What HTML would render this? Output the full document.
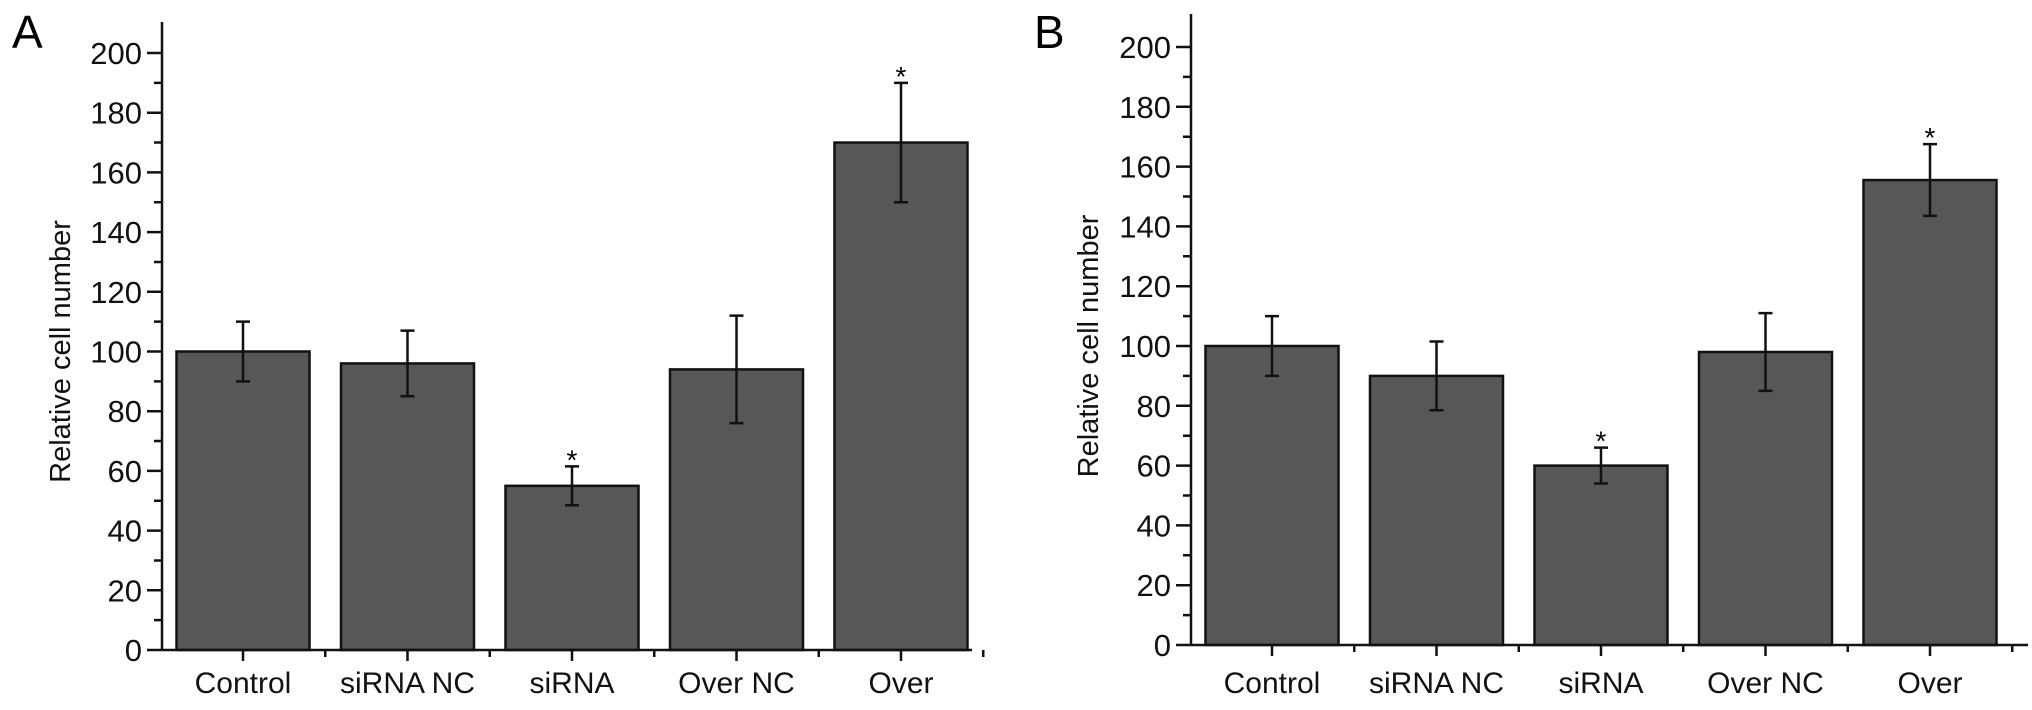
<!DOCTYPE html>
<html><head><meta charset="utf-8"><style>
html,body{margin:0;padding:0;background:#fff;}
svg{display:block;font-family:"Liberation Sans",sans-serif;}
</style></head><body>
<svg id="c" width="2032" height="710"></svg>
<script>
const categories = ["Control","siRNA NC","siRNA","Over NC","Over"];
const valuesA = [100, 96, 55, 94, 170];
const errorsA = [10, 11, 6.5, 18, 20];
const sigA = [false, false, true, false, true];
const valuesB = [100, 90, 60, 98, 155.5];
const errorsB = [10, 11.5, 6, 13, 12];
const sigB = [false, false, true, false, true];
const yTicks = [0,20,40,60,80,100,120,140,160,180,200];

const NS = "http://www.w3.org/2000/svg";
const svg = document.getElementById('c');
function mk(tag, attrs, parent, text){
  const e = document.createElementNS(NS, tag);
  for (const k in attrs) e.setAttribute(k, attrs[k]);
  if (text !== undefined) e.textContent = text;
  (parent||svg).appendChild(e);
  return e;
}
function panel(cfg){
  const g = mk('g', {});
  
  
  const y = v => cfg.y0 - (v/200)*(cfg.y0 - cfg.y200);
  const xc = i => cfg.c0 + i*cfg.step;
  const bw = 133;
  const L = mk('text', {x: cfg.lx, y: 48, 'font-size': 46}, g, cfg.label);
  
  
  for (let i=0;i<categories.length;i++){
    const v = cfg.values[i], e = cfg.errors[i];
    const r = mk('rect', {x: xc(i)-bw/2, y: y(v), width: bw, height: y(0)-y(v), fill:'#575757', stroke:'#111', 'stroke-width':2.5}, g);
    
    
    const eb = mk('path', {d:`M${xc(i)} ${y(v+e)}V${y(v-e)}M${xc(i)-7} ${y(v+e)}H${xc(i)+7}M${xc(i)-7} ${y(v-e)}H${xc(i)+7}`, stroke:'#111','stroke-width':2.5, fill:'none'}, g);
    
    
    if (cfg.sig[i]){
      const s = mk('text', {x: xc(i), y: y(v+e)+3, 'font-size': 28, 'text-anchor':'middle'}, g, '*');
      
      
    }
    const t = mk('text', {x: xc(i), y: 693, 'font-size': 30, 'text-anchor':'middle', fill:'#111'}, g, categories[i]);
    
    
  }
  let d = `M${cfg.ax} ${cfg.top}V${y(0)}H${cfg.right}`;
  for (let v=0; v<=200; v+=10){
    const len = v%20===0 ? 15 : 8;
    d += `M${cfg.ax} ${y(v)}H${cfg.ax-len}`;
  }
  for (let i=0;i<categories.length;i++){
    d += `M${xc(i)} ${y(0)}v11`;
    d += `M${xc(i)+cfg.step/2} ${y(0)}v7`;
  }
  const ax = mk('path', {d, stroke:'#111','stroke-width':2.5, fill:'none'}, g);
  
  
  for (const v of yTicks){
    const t = mk('text', {x: cfg.ax-20, y: y(v)+11, 'font-size': 31, 'text-anchor':'end', fill:'#111'}, g, String(v));
    
    
  }
  const cy = (y(0)+y(200))/2;
  const yt = mk('text', {x: cfg.tx, y: cy, 'font-size': 29, 'text-anchor':'middle', transform:`rotate(-90 ${cfg.tx} ${cy})`, fill:'#111'}, g, 'Relative cell number');
  
  
}
panel({label:'A', lx:12, ax:162, top:22, right:972, y0:650, y200:53, c0:243, step:164.5, tx:70, values:valuesA, errors:errorsA, sig:sigA});
panel({label:'B', lx:1034, ax:1191, top:14, right:2028, y0:645, y200:47, c0:1272, step:164.5, tx:1098, values:valuesB, errors:errorsB, sig:sigB});
</script>
</body></html>
